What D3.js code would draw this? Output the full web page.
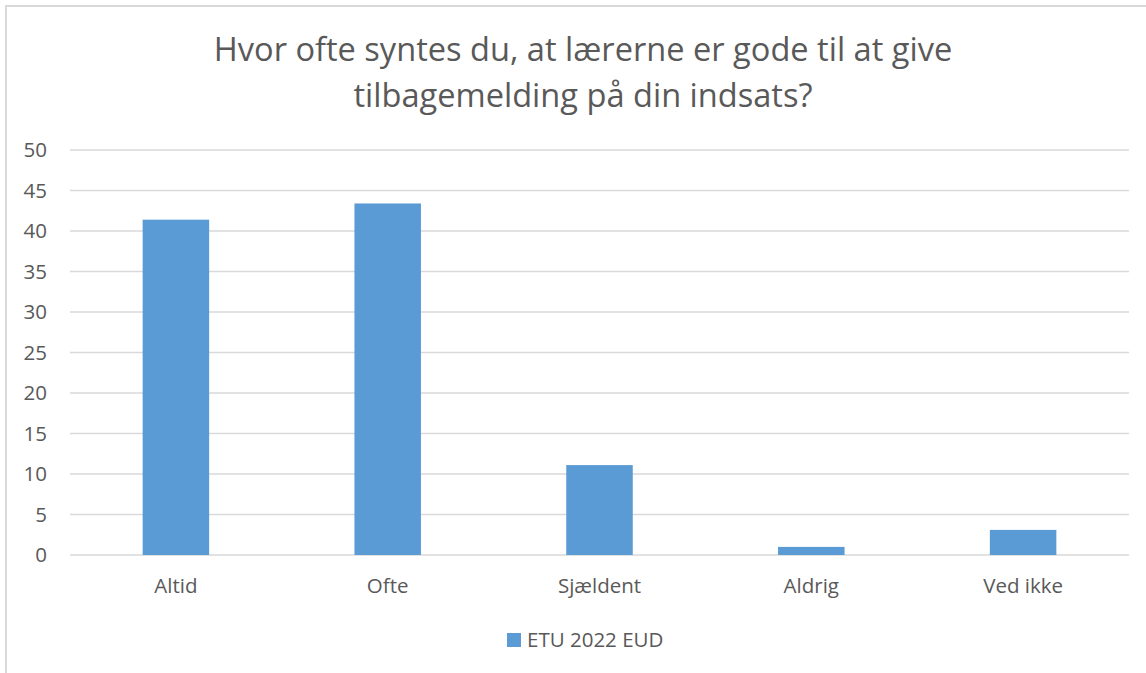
<!DOCTYPE html>
<html>
<head>
<meta charset="utf-8">
<script src="https://cdn.jsdelivr.net/npm/d3@7"></script>
<style>
  body { margin: 0; background: #fff; }
  svg { display: block; font-family: "Open Sans", sans-serif; }
</style>
</head>
<body>
<svg id="chart" width="1146" height="673"></svg>
<script>
// data
var categories = ["Altid", "Ofte", "Sjældent", "Aldrig", "Ved ikke"];
var values = [41.4, 43.4, 11.1, 1.0, 3.1];
var yTicks = [0, 5, 10, 15, 20, 25, 30, 35, 40, 45, 50];
var seriesName = "ETU 2022 EUD";
var titleLines = ["Hvor ofte syntes du, at lærerne er gode til at give",
                  "tilbagemelding på din indsats?"];

var svg = d3.select("#chart");
var textColor = "#595959";
var labelSize = "20.5px";

// outer chart border (runs off the right/bottom edge)
svg.append("rect")
    .attr("x", 6).attr("y", 6)
    .attr("width", 1200).attr("height", 700)
    .attr("fill", "none")
    .attr("stroke", "#d9d9d9")
    .attr("stroke-width", 2);

var x = d3.scaleBand()
    .domain(categories)
    .range([70, 1129])
    .paddingInner(0.686)
    .paddingOuter(0.343);

var y = d3.scaleLinear()
    .domain([0, 50])
    .range([555, 150]);

// gridlines
svg.append("g").selectAll("line")
    .data(yTicks)
    .enter().append("line")
    .attr("x1", 70).attr("x2", 1129)
    .attr("y1", function (d) { return y(d); })
    .attr("y2", function (d) { return y(d); })
    .attr("stroke", "#d9d9d9")
    .attr("stroke-width", 1.3);

// y axis labels
var yAxis = svg.append("g")
    .attr("transform", "translate(47,0)")
    .call(d3.axisLeft(y).tickValues(yTicks).tickSize(0).tickPadding(0));
yAxis.select(".domain").remove();
yAxis.selectAll("text")
    .attr("fill", textColor)
    .style("font-size", labelSize)
    .style("font-family", "Open Sans, sans-serif");

// bars
svg.append("g").selectAll("rect")
    .data(values)
    .enter().append("rect")
    .attr("x", function (d, i) { return x(categories[i]); })
    .attr("width", x.bandwidth())
    .attr("y", function (d) { return y(d); })
    .attr("height", function (d) { return y(0) - y(d); })
    .attr("fill", "#5b9bd5");

// category axis
var xAxis = svg.append("g")
    .attr("transform", "translate(0,574)")
    .call(d3.axisBottom(x).tickSize(0).tickPadding(0));
xAxis.select(".domain").remove();
xAxis.selectAll("text")
    .attr("fill", textColor)
    .attr("dy", "0")
    .attr("y", 18.5)
    .style("font-size", labelSize)
    .style("font-family", "Open Sans, sans-serif");

// title
svg.append("g").selectAll("text")
    .data(titleLines)
    .enter().append("text")
    .attr("x", 583)
    .attr("y", function (d, i) { return 61 + i * 46; })
    .attr("text-anchor", "middle")
    .attr("fill", textColor)
    .style("font-size", "32.6px")
    .text(function (d) { return d; });

// legend
var legend = svg.append("g");
legend.append("rect")
    .attr("x", 507).attr("y", 633)
    .attr("width", 14).attr("height", 14)
    .attr("fill", "#5b9bd5");
legend.append("text")
    .attr("x", 527).attr("y", 647)
    .attr("fill", textColor)
    .style("font-size", labelSize)
    .text(seriesName);
</script>
</body>
</html>
